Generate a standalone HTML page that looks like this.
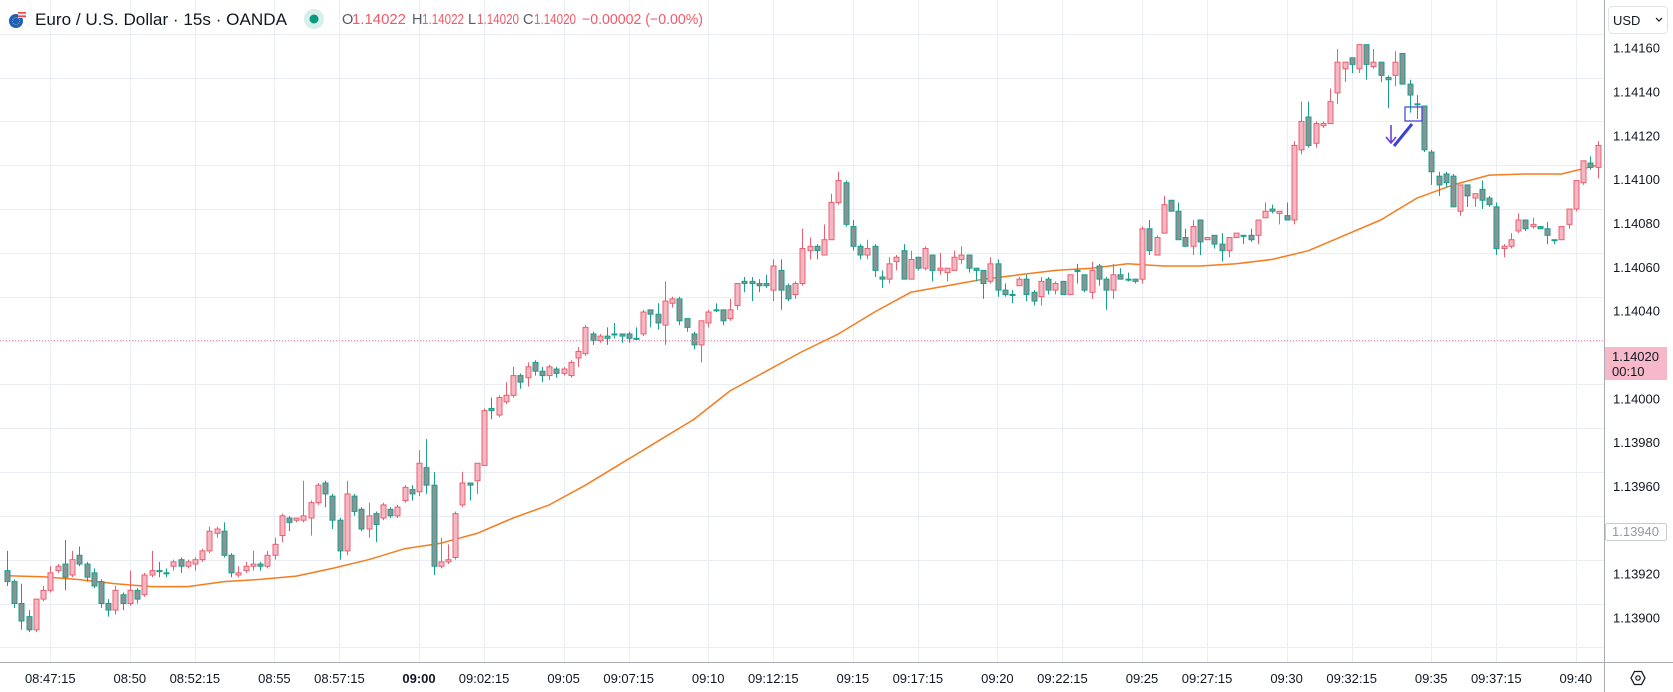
<!DOCTYPE html>
<html><head><meta charset="utf-8"><style>
html,body{margin:0;padding:0;background:#fff;}
svg{display:block;font-family:"Liberation Sans",sans-serif;}
</style></head><body>
<svg id="chart" width="1673" height="692" viewBox="0 0 1673 692" xmlns="http://www.w3.org/2000/svg">
<rect x="0" y="0" width="1673" height="692" fill="#ffffff"/>
<g id="grid"></g>
<g id="ma"></g>
<g id="candles"></g>
<line x1="0" y1="340.5" x2="1604" y2="340.5" stroke="#f08aa6" stroke-width="1" stroke-dasharray="1,2"/>
<g>
  <rect x="1405" y="107" width="17" height="14" fill="none" stroke="#3d3fd8" stroke-width="1.2"/>
  <line x1="1412" y1="124" x2="1394" y2="146" stroke="#3d3fd8" stroke-width="3"/>
  <path d="M1391 125 L1391 142 M1386 137 L1391 143 L1396 137" fill="none" stroke="#6a3fe0" stroke-width="1.6"/>
</g>
<line x1="0" y1="662.5" x2="1673" y2="662.5" stroke="#a9acb4" stroke-width="1"/>
<line x1="1604.5" y1="0" x2="1604.5" y2="692" stroke="#a9acb4" stroke-width="1"/>
<g id="ylabels" font-size="13" fill="#131722"></g>
<g id="xlabels" font-size="13" fill="#131722"></g>
<g>
  <rect x="1608.5" y="6.5" width="59" height="27" rx="4" fill="#fff" stroke="#e0e3eb"/>
  <text x="1613" y="25" font-size="13" fill="#131722">USD</text>
  <path d="M1656 18 L1659 21 L1662 18" fill="none" stroke="#131722" stroke-width="1.2"/>
</g>
<g>
  <rect x="1605" y="347" width="62" height="33" fill="#f7b9c9"/>
  <text x="1612" y="361" font-size="13" fill="#131722">1.14020</text>
  <text x="1612" y="376" font-size="13" fill="#131722">00:10</text>
</g>
<g>
  <rect x="1605.5" y="523.5" width="61" height="17" rx="2" fill="#fff" stroke="#c8cbd3"/>
  <text x="1612" y="536" font-size="13" fill="#9598a1">1.13940</text>
</g>
<g>
  <path d="M1631 678 L1634.5 671.5 L1641.5 671.5 L1645 678 L1641.5 684.5 L1634.5 684.5 Z" fill="none" stroke="#131722" stroke-width="1.3"/>
  <circle cx="1638" cy="678" r="2.2" fill="none" stroke="#131722" stroke-width="1.2"/>
</g>
<g>
  <g>
    <circle cx="16" cy="21" r="7" fill="#1f5fb8"/>
    <rect x="18" y="12" width="8" height="6" fill="#e8e8ee"/>
    <rect x="18" y="12" width="8" height="1.6" fill="#e34a4a"/>
    <rect x="18" y="15.5" width="8" height="1.6" fill="#e34a4a"/>
    <circle cx="16" cy="21" r="3.5" fill="none" stroke="#f2c744" stroke-width="0.8" stroke-dasharray="0.8,1.2"/>
  </g>
  <text x="35" y="25" font-size="17" fill="#131722" textLength="252" lengthAdjust="spacingAndGlyphs">Euro / U.S. Dollar · 15s · OANDA</text>
  <circle cx="314" cy="19" r="10" fill="#d6efea"/>
  <circle cx="314" cy="19" r="4.5" fill="#089981"/>
  <g font-size="14.5">
    <text x="342" y="24" fill="#555a66">O</text><text x="352" y="24" fill="#ef5a6a" textLength="54" lengthAdjust="spacingAndGlyphs">1.14022</text>
    <text x="412" y="24" fill="#555a66">H</text><text x="422" y="24" fill="#ef5a6a" textLength="42" lengthAdjust="spacingAndGlyphs">1.14022</text>
    <text x="468" y="24" fill="#555a66">L</text><text x="477" y="24" fill="#ef5a6a" textLength="42" lengthAdjust="spacingAndGlyphs">1.14020</text>
    <text x="523" y="24" fill="#555a66">C</text><text x="534" y="24" fill="#ef5a6a" textLength="42" lengthAdjust="spacingAndGlyphs">1.14020</text>
    <text x="582" y="24" fill="#ef5a6a" textLength="121" lengthAdjust="spacingAndGlyphs">−0.00002 (−0.00%)</text>
  </g>
</g>
</svg>
<script>
// values in units of 0.00001 above 1.13900
const opens=[15,10,0,-6,-12,2,6,15,18,13,22,18,14,10,0,-3,4,0,6,4,13,15,14,17,20,17,18,20,24,32,33,22,13,15,17,18,17,22,31,39,38,38,39,46,55,49,38,24,49,43,34,41,39,43,40,47,52,51,62,54,17,19,21,45,55,56,63,89,86,92,95,104,103,110,106,104,107,105,104,112,114,123,120,122,123,123,123,121,123,134,132,127,137,139,130,123,118,128,134,134,130,136,147,147,146,146,143,152,145,141,146,161,163,159,166,183,192,172,163,159,163,149,148,156,161,148,158,153,159,152,151,152,157,159,153,152,147,155,143,141,145,148,142,140,148,143,147,141,152,150,142,154,148,143,150,148,148,148,171,159,169,184,179,167,163,175,166,168,164,161,167,168,168,168,176,180,178,177,175,207,222,210,218,219,233,244,249,244,255,245,247,240,241,251,237,228,227,206,195,196,195,179,191,185,189,185,181,162,163,170,175,172,172,171,166,166,173,180,192,201,199];
const highs=[24,11,9,-3,-4,8,17,18,29,24,26,19,16,11,2,8,5,15,7,14,24,19,16,20,21,20,21,25,35,35,37,23,17,19,24,19,24,30,41,40,39,56,47,55,56,50,39,56,50,44,46,42,46,44,45,54,54,70,75,60,30,27,42,60,55,64,89,94,95,101,108,105,110,111,108,109,108,108,111,117,127,124,123,126,128,123,124,126,134,134,137,147,140,140,130,124,129,134,137,134,139,146,149,149,148,150,157,157,146,147,171,167,164,173,187,197,193,175,164,166,164,152,158,159,164,161,158,163,159,160,153,161,163,159,153,152,158,157,146,143,149,150,143,149,149,147,147,150,155,150,156,155,149,155,153,151,148,172,175,168,186,184,183,171,175,175,167,168,169,167,169,168,171,175,183,182,179,183,211,229,229,220,220,235,253,247,249,255,255,253,247,241,252,251,239,232,227,207,197,197,196,191,191,187,193,186,183,164,169,178,175,176,172,174,166,172,180,193,202,204,211];
const lows=[8,-2,-12,-13,-13,1,5,14,6,12,17,10,7,-2,-6,-5,-3,-1,0,3,12,12,12,15,14,16,15,19,23,30,21,12,12,14,15,15,16,20,28,33,37,37,31,45,44,34,20,22,40,33,30,28,38,39,39,46,47,49,50,13,16,18,20,44,47,50,63,84,85,91,94,98,99,104,101,102,103,104,103,108,113,118,119,118,121,119,119,120,122,126,125,118,135,127,124,116,110,126,133,127,129,134,142,138,142,144,138,134,138,139,145,157,157,159,166,182,172,161,157,157,149,144,146,152,148,148,152,152,147,150,147,152,155,151,147,139,146,140,140,137,145,138,136,136,141,141,141,141,146,142,139,145,134,139,148,147,146,146,159,159,169,179,166,163,159,159,166,162,156,158,167,164,165,164,176,178,173,175,173,205,208,208,217,219,228,238,242,242,239,244,238,226,236,237,224,221,206,191,186,190,181,177,181,181,180,181,159,158,162,169,170,171,171,164,164,166,171,179,191,198,194];
const closes=[10,0,-8,-12,2,6,14,17,12,20,18,12,8,0,-3,6,0,6,2,13,15,15,14,19,17,19,20,24,33,34,22,14,14,17,18,17,22,27,40,37,39,40,46,54,50,38,24,50,42,34,40,36,45,40,44,53,50,64,54,17,19,20,41,55,54,64,88,88,94,95,104,101,108,106,104,108,105,107,110,115,126,120,122,121,123,122,121,121,133,132,128,138,139,129,126,118,129,133,134,129,134,146,146,146,145,145,154,143,139,146,162,163,161,166,183,193,173,163,159,162,152,148,155,158,148,157,153,162,152,153,153,158,159,153,152,146,155,143,141,141,148,141,138,147,143,146,141,150,152,143,152,148,143,150,148,148,147,171,161,167,182,179,166,163,172,165,167,164,161,167,169,168,166,175,179,179,179,175,209,220,209,219,219,229,247,247,246,255,246,247,241,239,247,237,232,228,207,197,191,192,181,191,186,187,184,182,162,163,166,175,171,173,171,168,166,172,180,193,202,199,209];
// moving average, one value every 5 candles
const maValues=[12.7,12.2,10.9,9,7.7,7.7,10,11,12.5,16,20,25,27.5,32,39,45,54,64,74,84,97,106,115,123,133,142,145,148,150,152,153,155,154,154,155,157,161,168,175,185,191,195.5,196,196,200];
const maStep=5;
const priceTicks=[1.13900,1.13920,1.13940,1.13960,1.13980,1.14000,1.14040,1.14060,1.14080,1.14100,1.14120,1.14140,1.14160];
const gridPrices=[1.13880,1.13900,1.13920,1.13940,1.13960,1.13980,1.14000,1.14020,1.14040,1.14060,1.14080,1.14100,1.14120,1.14140,1.14160];
const timeLabels=["08:47:15","08:50","08:52:15","08:55","08:57:15","09:00","09:02:15","09:05","09:07:15","09:10","09:12:15","09:15","09:17:15","09:20","09:22:15","09:25","09:27:15","09:30","09:32:15","09:35","09:37:15","09:40"];

const NS="http://www.w3.org/2000/svg";
function xIdx(i){return 7+7.23*i;}
function yV(v){return 603.5-v*2.1915;}
function yP(p){return yV(Math.round((p-1.139)*100000));}
function xTime(s){const a=s.split(':').map(Number);const sec=a[0]*3600+a[1]*60+(a[2]||0);return 419+(sec-32400)*0.482;}
function mk(tag,attrs,parent){const e=document.createElementNS(NS,tag);for(const k in attrs)e.setAttribute(k,attrs[k]);parent.appendChild(e);return e;}

const grid=document.getElementById('grid');
gridPrices.forEach(p=>{const y=Math.round(yP(p))+0.5;
  const l=mk('line',{x1:0,x2:1604,y1:y,y2:y,stroke:'#eaeef4','stroke-width':1},grid);
  
  
});
timeLabels.forEach(t=>{const x=Math.round(xTime(t))+0.5;
  const l=mk('line',{x1:x,x2:x,y1:0,y2:662,stroke:'#eaeef4','stroke-width':1},grid);
  
  
});

const yl=document.getElementById('ylabels');
priceTicks.forEach(p=>{
  const t=mk('text',{x:1613,y:yP(p)+19},yl);t.textContent=p.toFixed(5);
  
  
});
const xl=document.getElementById('xlabels');
timeLabels.forEach(s=>{
  const t=mk('text',{x:xTime(s),y:683,'text-anchor':'middle'},xl);t.textContent=s;
  if(s==="09:00")t.setAttribute('font-weight','bold');
  
  
});

const cg=document.getElementById('candles');
for(let i=0;i<closes.length;i++){
  const o=opens[i],c=closes[i],h=highs[i],l=lows[i];
  const up=c>o;
  const stroke=up?'#e8606f':'#17a08c';
  const fill=up?'#f7b6c4':'#8b9293';
  const x=Math.round(xIdx(i));
  const g=mk('g',{},cg);
  
  
  const w=mk('line',{x1:x+0.5,x2:x+0.5,y1:yV(h),y2:yV(l),stroke:stroke,'stroke-width':1},g);
  
  
  const top=yV(Math.max(o,c)),bot=yV(Math.min(o,c));
  const b=mk('rect',{x:x-2,y:top,width:5,height:Math.max(bot-top,1),fill:fill,stroke:stroke,'stroke-width':1},g);
  
  
}

const mg=document.getElementById('ma');
let d='';
maValues.forEach((v,k)=>{d+=(k?'L':'M')+xIdx(k*maStep).toFixed(1)+' '+yV(v).toFixed(1)+' ';});
const mp=mk('path',{d:d,fill:'none',stroke:'#f57c1f','stroke-width':1.5,'stroke-linejoin':'round'},mg);


</script>
</body></html>
